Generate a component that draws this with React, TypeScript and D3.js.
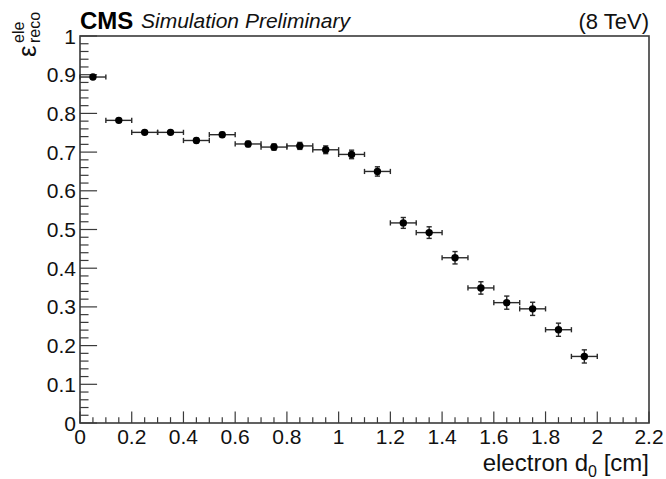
import React from "react";
import * as d3 from "d3";

// Reconstruction efficiency per transverse impact-parameter bin
const binCenters = [
  0.05, 0.15, 0.25, 0.35, 0.45, 0.55, 0.65, 0.75, 0.85, 0.95,
  1.05, 1.15, 1.25, 1.35, 1.45, 1.55, 1.65, 1.75, 1.85, 1.95,
];
const binHalfWidths = [
  0.05, 0.05, 0.05, 0.05, 0.05, 0.05, 0.05, 0.05, 0.05, 0.05,
  0.05, 0.05, 0.05, 0.05, 0.05, 0.05, 0.05, 0.05, 0.05, 0.05,
];
const efficiency = [
  0.894, 0.782, 0.751, 0.751, 0.73, 0.745, 0.721, 0.713, 0.716, 0.706,
  0.694, 0.65, 0.517, 0.492, 0.427, 0.349, 0.311, 0.295, 0.241, 0.172,
];
const efficiencyErrors = [
  0.004, 0.005, 0.005, 0.005, 0.006, 0.006, 0.007, 0.008, 0.009, 0.01,
  0.011, 0.012, 0.014, 0.015, 0.016, 0.016, 0.017, 0.017, 0.017, 0.017,
];

const xTickValues = [0, 0.2, 0.4, 0.6, 0.8, 1, 1.2, 1.4, 1.6, 1.8, 2, 2.2];
const xTickLabels = ["0", "0.2", "0.4", "0.6", "0.8", "1", "1.2", "1.4", "1.6", "1.8", "2", "2.2"];
const yTickValues = [0, 0.1, 0.2, 0.3, 0.4, 0.5, 0.6, 0.7, 0.8, 0.9, 1];
const yTickLabels = ["0", "0.1", "0.2", "0.3", "0.4", "0.5", "0.6", "0.7", "0.8", "0.9", "1"];

const W = 666;
const H = 479;
const frame = { left: 80, right: 649, top: 36, bottom: 423 };
const FONT = "'Liberation Sans', Arial, Helvetica, sans-serif";
const INK = "#111";
const AXIS = "#3a3a3a";

export default function App() {
  const x = d3.scaleLinear().domain([0, 2.2]).range([frame.left, frame.right]);
  const y = d3.scaleLinear().domain([0, 1]).range([frame.bottom, frame.top]);

  const xMinor = d3.range(0, 2.2 + 1e-9, 0.05);
  const yMinor = d3.range(0, 1 + 1e-9, 0.02);

  const plotH = frame.bottom - frame.top;
  const plotW = frame.right - frame.left;
  const xMajorLen = 0.03 * plotH;
  const yMajorLen = 0.03 * plotW;

  const points = binCenters.map((c, i) => ({
    c,
    hw: binHalfWidths[i],
    v: efficiency[i],
    e: efficiencyErrors[i],
  }));

  const cap = 2.6;

  return (
    <svg
      width={W}
      height={H}
      viewBox={`0 0 ${W} ${H}`}
      style={{ position: "absolute", left: 0, top: 0, background: "#fff" }}
      fontFamily={FONT}
    >
      <rect x={0} y={0} width={W} height={H} fill="#fff" />

      {/* x-axis ticks */}
      {xMinor.map((t, i) => {
        const major = Math.abs(t / 0.2 - Math.round(t / 0.2)) < 1e-6;
        return (
          <line
            key={`xm${i}`}
            x1={x(t)}
            x2={x(t)}
            y1={frame.bottom}
            y2={frame.bottom - (major ? xMajorLen : xMajorLen / 2)}
            stroke={AXIS}
            strokeWidth={1.2}
          />
        );
      })}
      {/* y-axis ticks */}
      {yMinor.map((t, i) => {
        const major = Math.abs(t / 0.1 - Math.round(t / 0.1)) < 1e-6;
        return (
          <line
            key={`ym${i}`}
            x1={frame.left}
            x2={frame.left + (major ? yMajorLen : yMajorLen / 2)}
            y1={y(t)}
            y2={y(t)}
            stroke={AXIS}
            strokeWidth={1.2}
          />
        );
      })}

      {/* frame */}
      <rect
        x={frame.left}
        y={frame.top}
        width={plotW}
        height={plotH}
        fill="none"
        stroke={AXIS}
        strokeWidth={1.6}
      />

      {/* x tick labels */}
      {xTickValues.map((t, i) => (
        <text
          key={`xl${i}`}
          x={x(t)}
          y={frame.bottom + 21}
          textAnchor="middle"
          fontSize={21}
          fill={INK}
        >
          {xTickLabels[i]}
        </text>
      ))}
      {/* y tick labels */}
      {yTickValues.map((t, i) => (
        <text
          key={`yl${i}`}
          x={frame.left - 4}
          y={y(t) + 7.5}
          textAnchor="end"
          fontSize={21}
          fill={INK}
        >
          {yTickLabels[i]}
        </text>
      ))}

      {/* error bars and markers */}
      {points.map((p, i) => (
        <g key={`p${i}`} stroke="#2a2a2a" strokeWidth={1.4}>
          <line x1={x(p.c - p.hw)} x2={x(p.c + p.hw)} y1={y(p.v)} y2={y(p.v)} />
          <line x1={x(p.c - p.hw)} x2={x(p.c - p.hw)} y1={y(p.v) - cap} y2={y(p.v) + cap} />
          <line x1={x(p.c + p.hw)} x2={x(p.c + p.hw)} y1={y(p.v) - cap} y2={y(p.v) + cap} />
          <line x1={x(p.c)} x2={x(p.c)} y1={y(p.v - p.e)} y2={y(p.v + p.e)} />
          <line x1={x(p.c) - cap} x2={x(p.c) + cap} y1={y(p.v + p.e)} y2={y(p.v + p.e)} />
          <line x1={x(p.c) - cap} x2={x(p.c) + cap} y1={y(p.v - p.e)} y2={y(p.v - p.e)} />
          <circle cx={x(p.c)} cy={y(p.v)} r={3.7} fill="#000" stroke="none" />
        </g>
      ))}

      {/* header */}
      <text x={frame.left} y={29} fontSize={24} fontWeight="bold" fill="#000">
        CMS
      </text>
      <text x={frame.left + 61} y={28} fontSize={21} fontStyle="italic" fill={INK}>
        Simulation Preliminary
      </text>
      <text x={frame.right} y={29} fontSize={22} textAnchor="end" fill={INK}>
        (8 TeV)
      </text>

      {/* x-axis title */}
      <text x={frame.right} y={471} fontSize={24} textAnchor="end" fill={INK}>
        electron d
        <tspan fontSize={16} dy={6}>0</tspan>
        <tspan dy={-6}> [cm]</tspan>
      </text>

      {/* y-axis title */}
      <g transform="translate(36,57) rotate(-90)" fill={INK}>
        <text x={0} y={0} fontSize={26}>ε</text>
        <text x={14} y={-12} fontSize={16}>ele</text>
        <text x={14} y={4} fontSize={16}>reco</text>
      </g>
    </svg>
  );
}
